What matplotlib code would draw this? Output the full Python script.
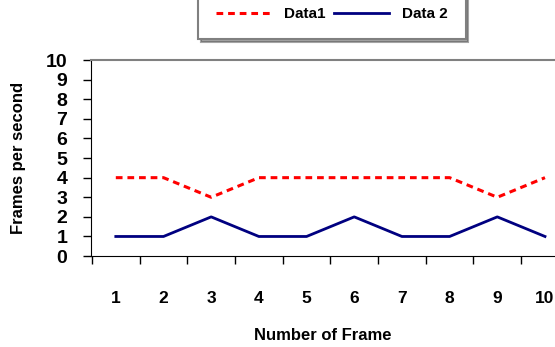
import matplotlib.pyplot as plt
import matplotlib.ticker as mticker

# chart values
frames = [1, 2, 3, 4, 5, 6, 7, 8, 9, 10]
data1 = [4, 4, 3, 4, 4, 4, 4, 4, 3, 4]
data2 = [1, 1, 2, 1, 1, 2, 1, 1, 2, 1]
y_ticks = list(range(0, 11))

plt.rcParams['font.family'] = ['Liberation Sans', 'DejaVu Sans']
plt.rcParams['font.weight'] = 'bold'

fig = plt.figure(figsize=(5.55, 3.47), dpi=100)
ax = fig.add_axes([0.164, 0.262, 0.836, 0.565])

ax.plot(frames, data1, color='#ff0000', linestyle=(0, (2.2, 1.6)), linewidth=2.2, label='Data1')
ax.plot(frames, data2, color='#000080', linewidth=2.0, label='Data 2')

ax.set_xlim(0.48, 10.21)
ax.set_ylim(0, 10)

# category axis: ticks between categories, labels on categories
ax.xaxis.set_major_locator(mticker.FixedLocator([f - 0.5 for f in frames] + [10.5]))
ax.xaxis.set_major_formatter(mticker.NullFormatter())
ax.xaxis.set_minor_locator(mticker.FixedLocator(frames))
ax.xaxis.set_minor_formatter(mticker.FixedFormatter([str(f) for f in frames]))
ax.tick_params(axis='x', which='major', direction='out', length=6, width=1, color='black')
ax.tick_params(axis='x', which='minor', length=0, pad=25, labelsize=12.5)

ax.set_yticks(y_ticks)
ax.tick_params(axis='y', direction='out', length=6, width=1, pad=11, labelsize=14)

for t in ax.get_xticklabels(minor=True) + ax.get_yticklabels():
    t.set_fontweight('bold')

ax.spines['left'].set_color('black')
ax.spines['bottom'].set_color('black')
ax.spines['top'].set_color('#808080')
ax.spines['top'].set_linewidth(1.5)
ax.spines['right'].set_visible(False)

ax.set_xlabel('Number of Frame', fontsize=12, fontweight='bold', labelpad=16)
ax.set_ylabel('Frames per second', fontsize=12, fontweight='bold', labelpad=14)

leg = fig.legend(loc='lower center', bbox_to_anchor=(0.598, 0.865), ncol=2,
                 frameon=True, shadow=True, fancybox=False,
                 handlelength=3.6, columnspacing=0.6, borderpad=1.2,
                 edgecolor='#808080', prop={'weight': 'bold', 'size': 11})
leg.get_frame().set_linewidth(1.5)

fig.savefig('out.png', dpi=100)
